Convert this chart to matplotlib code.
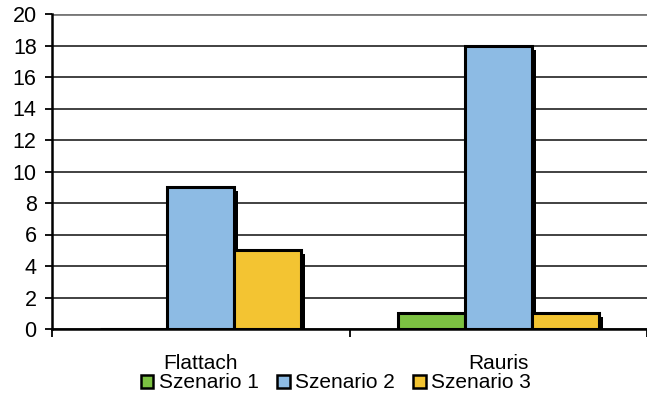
import numpy as np
import matplotlib.pyplot as plt
import matplotlib.patheffects as pe

plt.rcParams['font.family'] = ['Liberation Sans', 'DejaVu Sans']

categories = ['Flattach', 'Rauris']
series_names = ['Szenario 1', 'Szenario 2', 'Szenario 3']
szenario1 = [0, 1]
szenario2 = [9, 18]
szenario3 = [5, 1]
colors = ['#7cc142', '#8dbbe4', '#f3c432']

fig = plt.figure(figsize=(6.47, 3.99), dpi=100)
ax = fig.add_axes([52 / 647, 1 - 329 / 399, 1 - 52 / 647, 315 / 399])

x = np.arange(len(categories))
w = 0.225
shadow = [pe.SimplePatchShadow(offset=(3, -3), shadow_rgbFace='black', alpha=1), pe.Normal()]
for i, (vals, name) in enumerate(zip([szenario1, szenario2, szenario3], series_names)):
    bars = ax.bar(x + (i - 1) * w, vals, w, color=colors[i], edgecolor='black',
                  linewidth=2.2, label=name, zorder=3)
    for b in bars:
        if b.get_height() > 0:
            b.set_path_effects(shadow)

ax.set_ylim(0, 20)
ax.set_xlim(-0.5, 1.5)
ax.set_yticks(range(0, 21, 2))
ax.grid(axis='y', color='#333333', linewidth=1.3, zorder=0)
ax.get_ygridlines()[-1].set_color('#777777')
ax.get_ygridlines()[-1].set_linewidth(2)
ax.tick_params(axis='y', labelsize=15.5, length=5, width=1.3, direction='out', pad=6)
ax.set_xticks(x)
ax.set_xticklabels(categories, fontsize=15)
ax.tick_params(axis='x', length=0, pad=18)
ax.set_xticks([-0.5, 0.5, 1.5], minor=True)
ax.tick_params(axis='x', which='minor', length=6, width=1.3)
for s in ['top', 'right']:
    ax.spines[s].set_visible(False)
ax.spines['left'].set_linewidth(1.8)
ax.spines['bottom'].set_linewidth(1.8)
ax.spines['bottom'].set_zorder(4)

leg = ax.legend(loc='center', bbox_to_anchor=(336 / 647, 1 - 383 / 399), bbox_transform=fig.transFigure,
                ncol=3, frameon=False, fontsize=15, handlelength=0.6, handleheight=0.6,
                handletextpad=0.25, columnspacing=0.9, borderpad=0)
for h in leg.legend_handles:
    h.set_path_effects([])
    h.set_linewidth(1.8)

fig.savefig('out.png', dpi=100, facecolor='white')
